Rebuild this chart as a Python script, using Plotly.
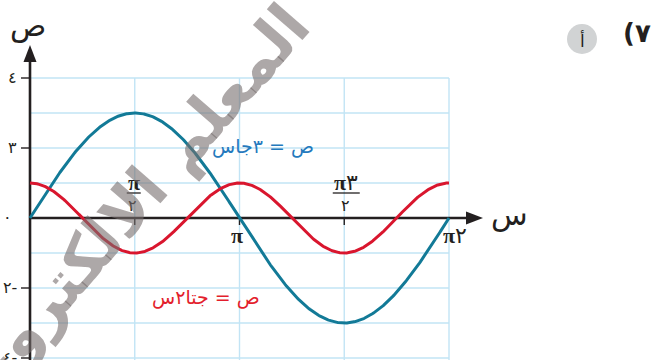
import numpy as np
import plotly.graph_objects as go

# ---- data -------------------------------------------------------------
sine_amplitude = 3          # ص = ٣ جا س
cosine_frequency = 2        # ص = جتا ٢س
x_domain = [0, 2 * np.pi]

grid_x = [np.pi / 2, np.pi, 3 * np.pi / 2, 2 * np.pi]
grid_y = [4, 3, 2, 1, -1, -2, -3, -4]

y_tick_values = [4, 2, 0, -2, -4]
y_tick_labels = ["٤", "٣", "٠", "٢-", "٤-"]

x_tick_values = [np.pi / 2, np.pi, 3 * np.pi / 2, 2 * np.pi]

blue_label = "ص = ٣جاس"
red_label = "ص = جتا٢س"

# ---- canvas / scale ---------------------------------------------------
W, H = 661, 360
ORIGIN_PX = (30, 218)           # where (0, 0) sits on the page
PX_PER_HALF_PI = 104.75
PX_PER_UNIT = 35


def dx(px):
    """horizontal pixel distance -> x data units"""
    return px / PX_PER_HALF_PI * (np.pi / 2)


def dy(px):
    """vertical pixel distance -> y data units"""
    return px / PX_PER_UNIT


x_range = [dx(-ORIGIN_PX[0]), dx(W - ORIGIN_PX[0])]
y_range = [dy(ORIGIN_PX[1] - H), dy(ORIGIN_PX[1])]

BLUE = "#127a97"
RED = "#d9162e"
INK = "#231f20"
GRID = "#c2e4f5"

x = np.linspace(x_domain[0], x_domain[1], 600)
y_sin = sine_amplitude * np.sin(x)
y_cos = np.cos(cosine_frequency * x)

fig = go.Figure()
fig.add_trace(go.Scatter(x=x, y=y_sin, mode="lines",
                         line=dict(color=BLUE, width=3), hoverinfo="skip"))
fig.add_trace(go.Scatter(x=x, y=y_cos, mode="lines",
                         line=dict(color=RED, width=3), hoverinfo="skip"))

shapes = []
# grid
for gx in grid_x:
    shapes.append(dict(type="line", x0=gx, x1=gx, y0=y_range[0], y1=max(grid_y),
                       line=dict(color=GRID, width=1.4), layer="below"))
for gy in grid_y:
    shapes.append(dict(type="line", x0=0, x1=max(grid_x), y0=gy, y1=gy,
                       line=dict(color=GRID, width=1.4), layer="below"))

# axes with arrow heads
x_tip = dx(483 - ORIGIN_PX[0])
y_tip = dy(ORIGIN_PX[1] - 45)
head_len, head_half = 17, 6.5
shapes.append(dict(type="line", x0=0, x1=x_tip - dx(head_len - 2), y0=0, y1=0,
                   line=dict(color=INK, width=2.6), layer="below"))
shapes.append(dict(type="line", x0=0, x1=0, y0=y_range[0], y1=y_tip - dy(head_len - 2),
                   line=dict(color=INK, width=2.6), layer="below"))
shapes.append(dict(type="path",
                   path=f"M {x_tip - dx(head_len)},{dy(head_half)} L {x_tip},0 "
                        f"L {x_tip - dx(head_len)},{-dy(head_half)} Z",
                   fillcolor=INK, line=dict(width=0), layer="below"))
shapes.append(dict(type="path",
                   path=f"M {-dx(head_half)},{y_tip - dy(head_len)} L 0,{y_tip} "
                        f"L {dx(head_half)},{y_tip - dy(head_len)} Z",
                   fillcolor=INK, line=dict(width=0), layer="below"))

# tick marks
for v in y_tick_values:
    if v == 0:
        continue
    shapes.append(dict(type="line", x0=-dx(9), x1=0, y0=v, y1=v,
                       line=dict(color=INK, width=1.4), layer="below"))
for v in x_tick_values[:3]:
    shapes.append(dict(type="line", x0=v, x1=v, y0=0, y1=-dy(7),
                       line=dict(color=INK, width=1.4), layer="below"))

annotations = []


def page(px, py):
    return px / W, 1 - py / H


def page_text(px, py, text, font, **kw):
    fx, fy = page(px, py)
    annotations.append(dict(x=fx, y=fy, xref="paper", yref="paper", text=text,
                            showarrow=False, xanchor="center", yanchor="middle",
                            font=font, **kw))


def data_text(xv, yv, text, font, **kw):
    annotations.append(dict(x=xv, y=yv, text=text, showarrow=False,
                            xanchor=kw.pop("xanchor", "center"), yanchor="middle",
                            font=font, **kw))


# y tick labels
for v, t in zip(y_tick_values, y_tick_labels):
    data_text(0, v, t, dict(family="DejaVu Sans", size=16, color=INK),
              xanchor="right", xshift=-11 if v != 0 else -16, yshift=1)

# x tick labels: fractions above the axis, whole multiples below
PI_FONT = dict(family="Liberation Serif", size=22, color=INK)
DIGIT_FONT = dict(family="DejaVu Sans", size=16, color=INK)
frac_bar = dict(color=INK, width=1.3)
fractions = [(x_tick_values[0], "<b>π</b>", 14, -1), (x_tick_values[2], "<b>π</b>٣", 27, 2)]
for v, num, bar_w, shift in fractions:
    data_text(v, 0, num, PI_FONT, xshift=shift, yshift=36)
    data_text(v, 0, "٢", DIGIT_FONT, xshift=shift - 1, yshift=13)
    shapes.append(dict(type="line", x0=v + dx(shift - bar_w / 2), x1=v + dx(shift + bar_w / 2),
                       y0=dy(25), y1=dy(25), line=frac_bar, layer="below"))

data_text(x_tick_values[1], 0, "<b>π</b>", PI_FONT, xshift=-3, yshift=-17)
data_text(x_tick_values[3], 0, "<b>π</b>٢", PI_FONT, xshift=6, yshift=-17)

# axis names
ax_font = dict(family="DejaVu Sans", size=30, color=INK)
page_text(28, 26, "ص", ax_font)
page_text(509, 214, "س", ax_font)

# curve labels
page_text(263, 146, blue_label, dict(family="DejaVu Sans", size=19, color="#2479bd"))
page_text(206, 297, red_label, dict(family="DejaVu Sans", size=19, color="#e31e2c"))

# exercise number and part marker
cx, cy = 582, 39
shapes.append(dict(type="circle", xref="paper", yref="paper",
                   x0=(cx - 15) / W, x1=(cx + 15) / W,
                   y0=1 - (cy + 15) / H, y1=1 - (cy - 15) / H,
                   fillcolor="#d1d3d4", line=dict(width=0)))
page_text(cx, cy + 1, "أ", dict(family="DejaVu Sans", size=17, color=INK))
page_text(637, 33, "<b>(٧</b>", dict(family="DejaVu Sans", size=26, color=INK))

# watermark
page_text(122, 214, "<b>المعلم الالكتروني</b>",
          dict(family="DejaVu Sans", size=62, color="rgba(118,110,110,0.6)"),
          textangle=-49)

fig.update_layout(
    width=W, height=H,
    margin=dict(l=0, r=0, t=0, b=0),
    paper_bgcolor="white", plot_bgcolor="white",
    showlegend=False,
    xaxis=dict(range=x_range, visible=False, fixedrange=True),
    yaxis=dict(range=y_range, visible=False, fixedrange=True),
    shapes=shapes,
    annotations=annotations,
)

fig.write_html("out.html", config={"displayModeBar": False})
